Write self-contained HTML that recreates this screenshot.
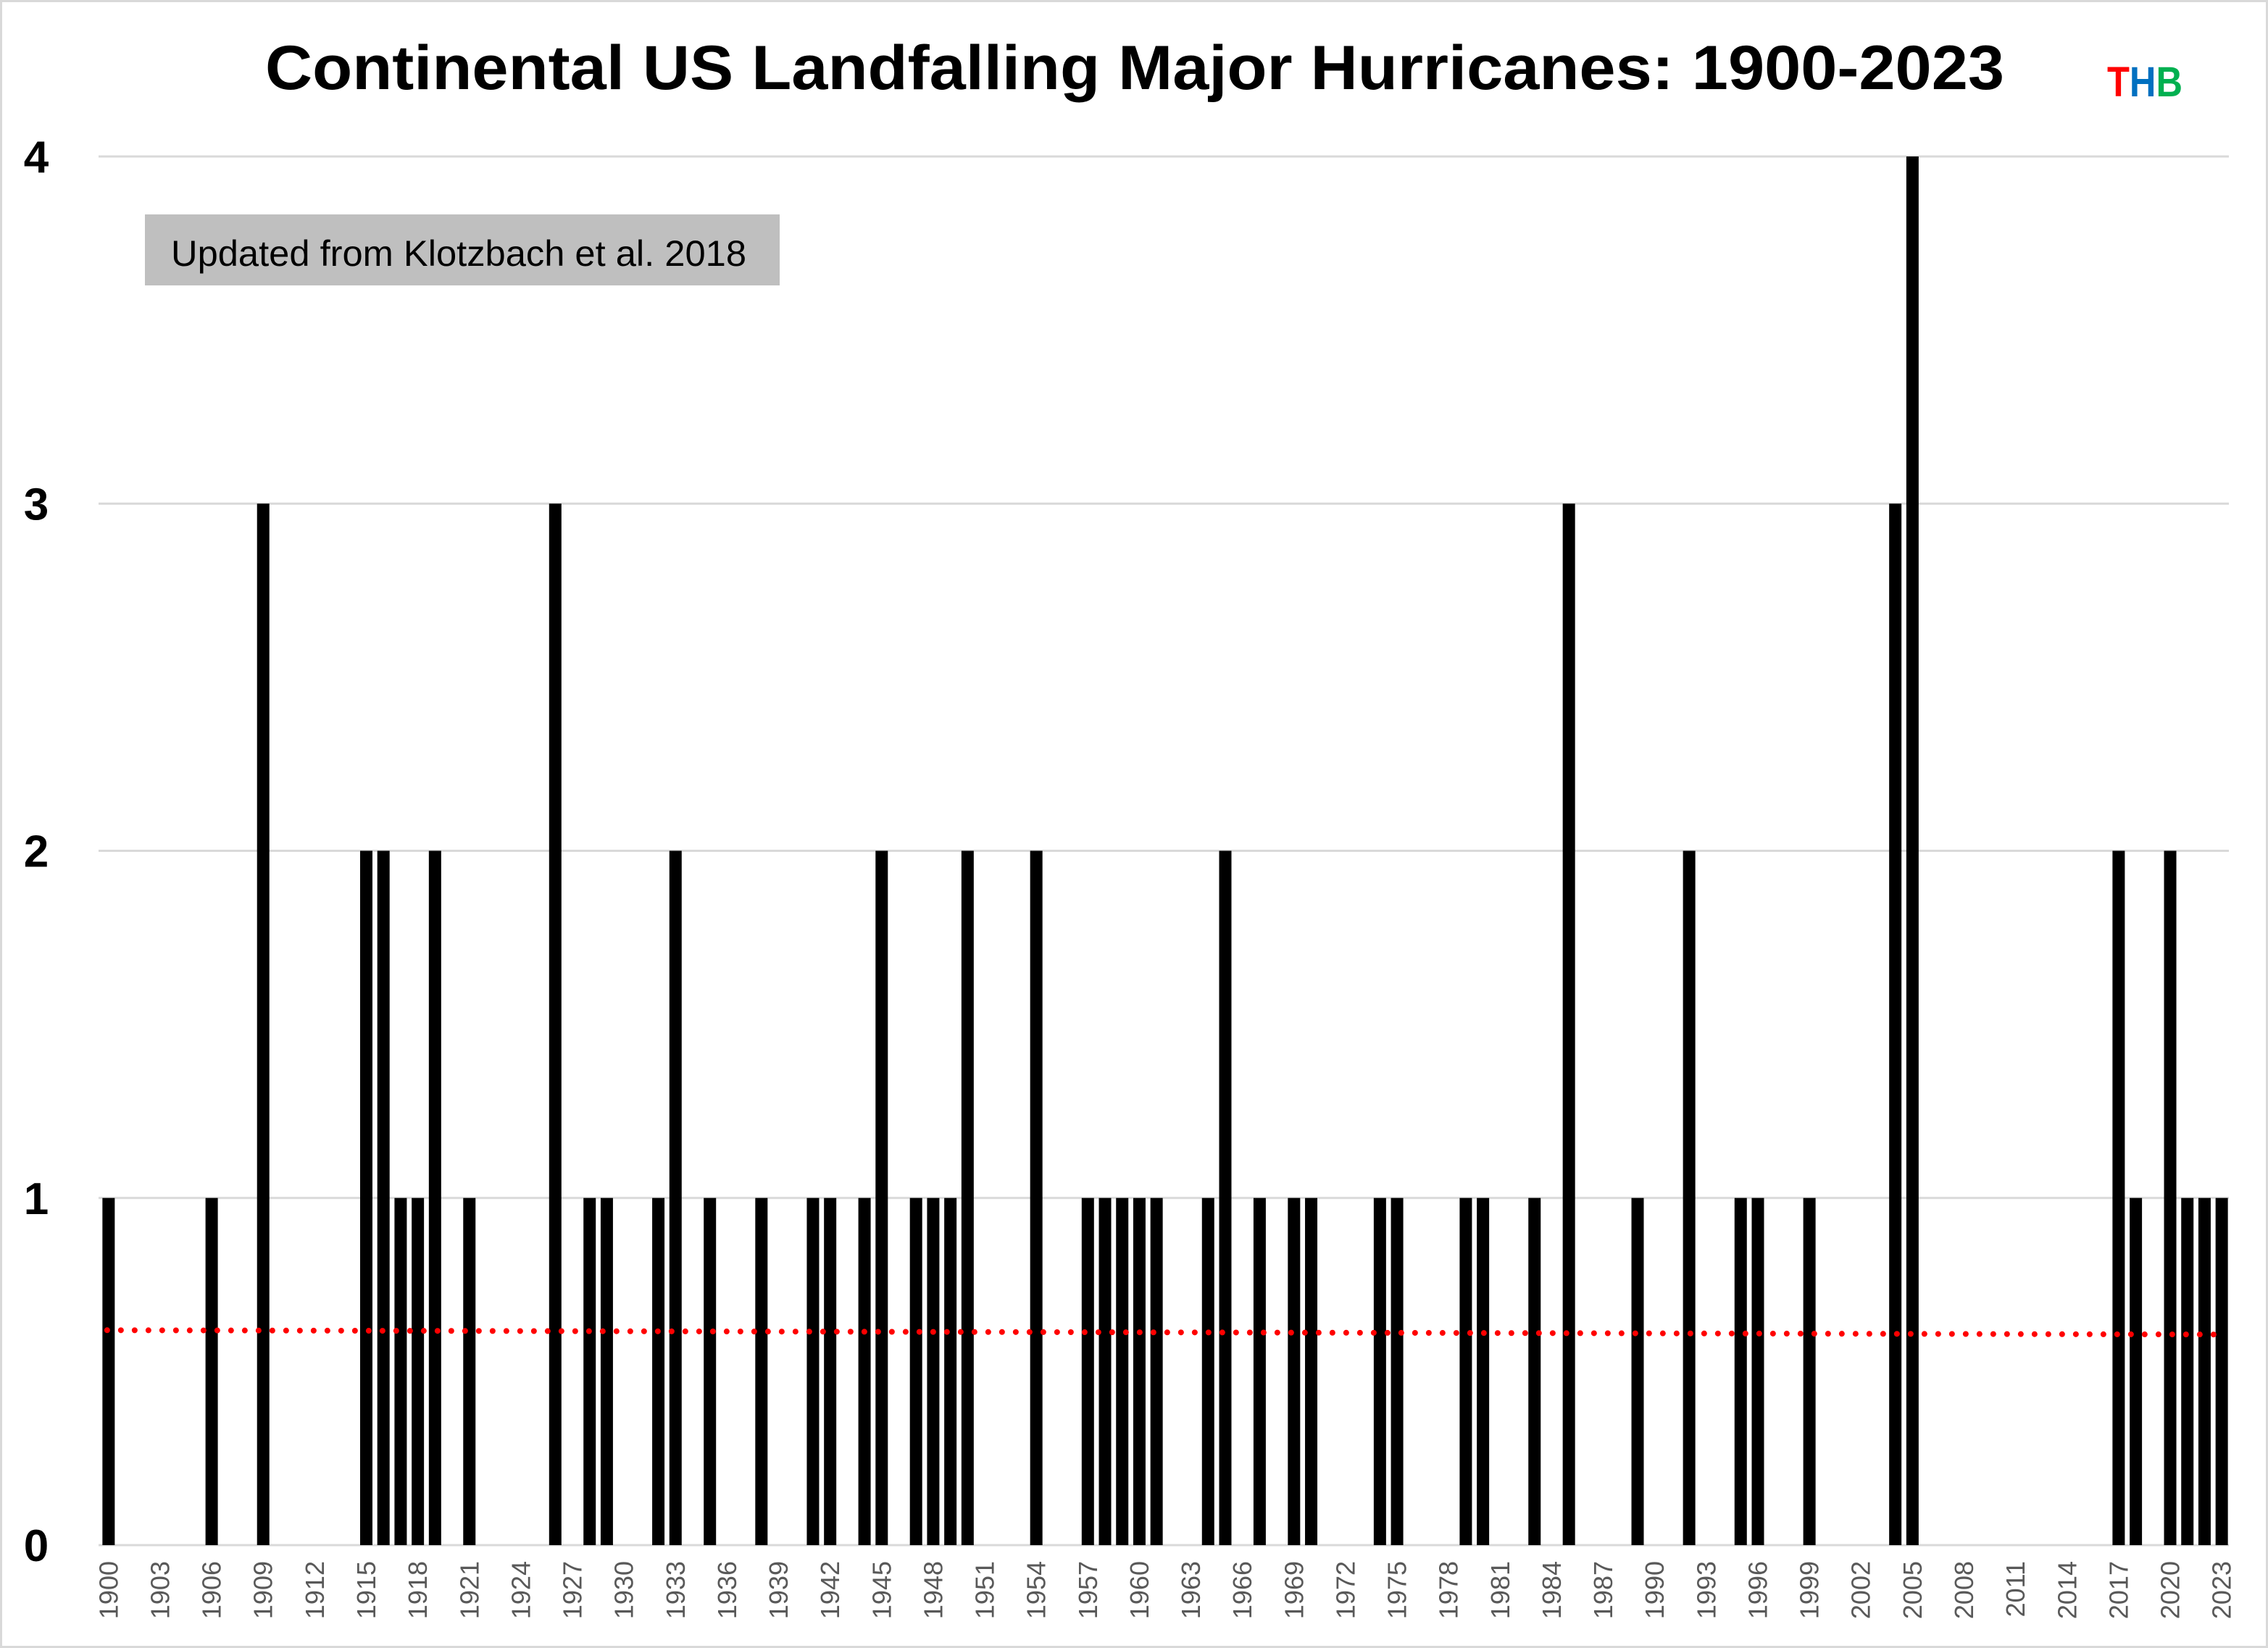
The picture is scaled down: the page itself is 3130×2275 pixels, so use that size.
<!DOCTYPE html>
<html><head><meta charset="utf-8"><style>
html,body{margin:0;padding:0;background:#fff;}
svg{display:block;}
</style></head><body>
<svg id="chart" width="3130" height="2275" viewBox="0 0 3130 2275" xmlns="http://www.w3.org/2000/svg">
<rect x="1.5" y="1.5" width="3127" height="2272" fill="#fff" stroke="#D9D9D9" stroke-width="3"/>
<text x="1566" y="123" text-anchor="middle" font-family="Liberation Sans, sans-serif" font-weight="bold" font-size="86" textLength="2400" lengthAdjust="spacingAndGlyphs">Continental US Landfalling Major Hurricanes: 1900-2023</text>
<text x="2908" y="133" font-family="Liberation Sans, sans-serif" font-weight="bold" font-size="58" textLength="104" lengthAdjust="spacingAndGlyphs"><tspan fill="#FF0000">T</tspan><tspan fill="#0070C0">H</tspan><tspan fill="#00B050">B</tspan></text>
<g id="grid"></g>
<g id="yticks"></g>
<g id="bars"></g>
<g id="xticks"></g>
<g id="trend"></g>
<rect x="200" y="296" width="876" height="98" fill="#BFBFBF"/>
<text x="236" y="367" font-family="Liberation Sans, sans-serif" font-size="50" textLength="794" lengthAdjust="spacingAndGlyphs">Updated from Klotzbach et al. 2018</text>
</svg>
<script>
const startYear = 1900;
const endYear = 2023;
const hurricaneYears = [1900,1906,1909,1915,1916,1917,1918,1919,1921,1926,1928,1929,1932,1933,1935,1938,1941,1942,1944,1945,1947,1948,1949,1950,1954,1957,1958,1959,1960,1961,1964,1965,1967,1969,1970,1974,1975,1979,1980,1983,1985,1989,1992,1995,1996,1999,2004,2005,2017,2018,2020,2021,2022,2023];
const hurricaneCounts = [1,1,3,2,2,1,1,2,1,3,1,1,1,2,1,1,1,1,1,2,1,1,1,2,2,1,1,1,1,1,1,2,1,1,1,1,1,1,1,1,3,1,2,1,1,1,3,4,2,1,2,1,1,1];
const yTicks = [0,1,2,3,4];
const xTickStep = 3;

const NS = 'http://www.w3.org/2000/svg';
const L = 138, R = 3078, T = 216, B = 2133, YMAX = 4;
const n = endYear - startYear + 1;
const band = (R - L) / n;
const xC = y => L + band * (y - startYear + 0.5);
const yS = v => B - (B - T) * v / YMAX;
function mk(tag, attrs, parent){const e=document.createElementNS(NS,tag);for(const k in attrs)e.setAttribute(k,attrs[k]);parent.appendChild(e);return e;}

const grid = document.getElementById('grid'), yt = document.getElementById('yticks');
yTicks.forEach(v=>{
  const l = mk('line',{x1:136,x2:3076,y1:yS(v),y2:yS(v),stroke:'#D9D9D9','stroke-width':3},grid);
  
  
  const t = mk('text',{x:50,y:yS(v)+22,'text-anchor':'middle','font-family':'Liberation Sans, sans-serif','font-weight':'bold','font-size':62},yt);
  t.textContent = v;
  
  
});

const bars = document.getElementById('bars');
hurricaneYears.forEach((yr,i)=>{
  const w = 17;
  const r = mk('rect',{x:xC(yr)-w/2,y:yS(hurricaneCounts[i]),width:w,height:B-yS(hurricaneCounts[i]),fill:'#000'},bars);
  
  
});

const xt = document.getElementById('xticks');
for(let yr=startYear; yr<=endYear; yr+=xTickStep){
  const x = xC(yr), y = 2155;
  const t = mk('text',{x:x,y:y,transform:`rotate(-90 ${x} ${y})`,'text-anchor':'end','dominant-baseline':'central','font-family':'Liberation Sans, sans-serif','font-size':36,fill:'#595959'},xt);
  t.textContent = yr;
  
  
}

// linear trend over all years (zeros included)
const allY = [], allV = [];
for(let yr=startYear; yr<=endYear; yr++){const k=hurricaneYears.indexOf(yr);allY.push(yr);allV.push(k>=0?hurricaneCounts[k]:0);}
const mx = allY.reduce((a,b)=>a+b,0)/n, mv = allV.reduce((a,b)=>a+b,0)/n;
let sxy=0,sxx=0; allY.forEach((y,i)=>{sxy+=(y-mx)*(allV[i]-mv);sxx+=(y-mx)*(y-mx);});
const slope = sxy/sxx, icpt = mv - slope*mx;
const tl = mk('line',{x1:xC(startYear)-2,y1:yS(icpt+slope*startYear),x2:xC(endYear),y2:yS(icpt+slope*endYear),stroke:'#FF0000','stroke-width':8,'stroke-linecap':'round','stroke-dasharray':'0 19'},document.getElementById('trend'));


</script>
</body></html>
